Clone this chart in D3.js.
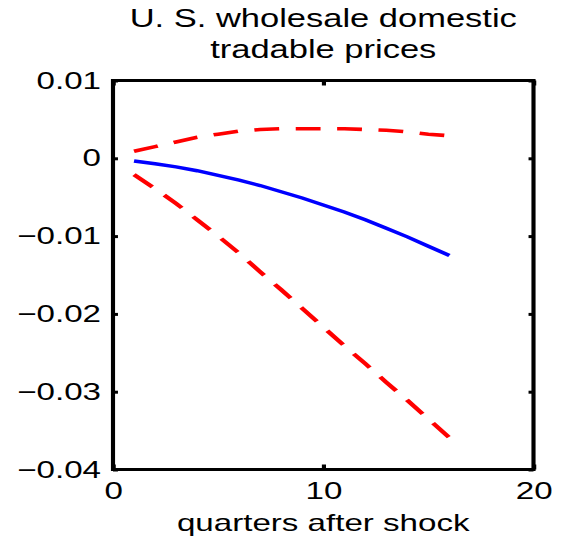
<!DOCTYPE html>
<html>
<head>
<meta charset="utf-8">
<script src="https://cdn.jsdelivr.net/npm/d3@7"></script>
<style>
  body { margin: 0; background: #fff; }
  text { font-family: 'Liberation Sans', Arial, sans-serif; fill: #000; }
</style>
</head>
<body>
<div id="chart"></div>
<script>
/* data */
const quarters = [1, 2, 3, 4, 5, 6, 7, 8, 9, 10, 11, 12, 13, 14, 15, 16]
const median = [-0.00035, -0.0007, -0.0011, -0.0016, -0.0022, -0.0028, -0.0035, -0.0043,
  -0.0051, -0.006, -0.0069, -0.0079, -0.009, -0.0101, -0.0113, -0.0125]
const upperBand = [0.0009, 0.0015, 0.0021, 0.0027, 0.0031, 0.0035, 0.0037, 0.0038,
  0.0038, 0.0038, 0.0038, 0.0037, 0.0036, 0.0034, 0.0031, 0.0029]
const lowerBand = [-0.0021, -0.0039, -0.0058, -0.0079, -0.01, -0.0122, -0.0146, -0.0169,
  -0.0193, -0.0217, -0.0241, -0.0264, -0.0288, -0.0311, -0.0335, -0.0359]
const xTicks = [0, 10, 20]
const yTicks = [0.01, 0, -0.01, -0.02, -0.03, -0.04]
const titleLines = ['U. S. wholesale domestic', 'tradable prices']
const xLabel = 'quarters after shock'

/* the picture is stretched sideways, so draw in narrow units and scale x */
const sx = 1.38
const totalW = 566
const totalH = 536
const margin = { top: 80.5, left: 113 / sx, right: (566 - 533.5) / sx, bottom: 536 - 469.5 }
const width = totalW / sx - margin.left - margin.right
const height = totalH - margin.top - margin.bottom

const xScale = d3.scaleLinear().domain([0, 20]).range([0, width])
const yScale = d3.scaleLinear().domain([-0.04, 0.01]).range([height, 0])

/* fn: y tick labels, plain 0 in the middle */
function formatY(d) {
  return Math.abs(d) < 1e-9 ? '0' : d3.format('.2f')(d)
}

const svg = d3.select('#chart')
  .append('svg')
  .attr('width', totalW)
  .attr('height', totalH)

const root = svg.append('g').attr('transform', `scale(${sx}, 1)`)
const g = root.append('g').attr('transform', `translate(${margin.left}, ${margin.top})`)

/* line generator */
const line = d3.line()
  .x((d, i) => xScale(quarters[i]))
  .y((d) => yScale(d))

/* bands and median */
g.append('path')
  .attr('d', line(upperBand))
  .attr('fill', 'none')
  .attr('stroke', '#ff0000')
  .attr('stroke-width', 3.6)
  .attr('stroke-dasharray', '18, 12')

g.append('path')
  .attr('d', line(lowerBand))
  .attr('fill', 'none')
  .attr('stroke', '#ff0000')
  .attr('stroke-width', 3.6)
  .attr('stroke-dasharray', '18, 12')

g.append('path')
  .attr('d', line(median))
  .attr('fill', 'none')
  .attr('stroke', '#0000ff')
  .attr('stroke-width', 3.4)

/* fn: axis look */
function styleAxis(sel) {
  sel.select('.domain').remove()
  sel.selectAll('.tick line').attr('stroke', '#000').attr('stroke-width', 3)
  sel.selectAll('.tick text')
    .style('font-family', "'Liberation Sans', Arial, sans-serif")
    .style('font-size', '24px')
    .attr('fill', '#000')
}

/* inside ticks on all four sides, labels left and bottom */
g.append('g')
  .call(d3.axisLeft(yScale).tickValues(yTicks).tickSize(-3.6).tickPadding(8.7).tickFormat(formatY))
  .call(styleAxis)

g.append('g')
  .attr('transform', `translate(${width}, 0)`)
  .call(d3.axisRight(yScale).tickValues(yTicks).tickSize(-3.6).tickFormat(''))
  .call(styleAxis)

g.append('g')
  .attr('transform', `translate(0, ${height})`)
  .call(d3.axisBottom(xScale).tickValues(xTicks).tickSize(-5).tickPadding(12).tickFormat(d3.format('d')))
  .call(styleAxis)

g.append('g')
  .call(d3.axisTop(xScale).tickValues(xTicks).tickSize(-5).tickFormat(''))
  .call(styleAxis)

/* plot box */
g.append('rect')
  .attr('width', width)
  .attr('height', height)
  .attr('fill', 'none')
  .attr('stroke', '#000')
  .attr('stroke-width', 3)

/* title */
root.selectAll('text.title')
  .data(titleLines)
  .enter()
  .append('text')
  .attr('class', 'title')
  .attr('x', margin.left + width / 2)
  .attr('y', (d, i) => 27 + i * 31)
  .attr('text-anchor', 'middle')
  .style('font-size', '25px')
  .text((d) => d)

/* x-axis label */
root.append('text')
  .attr('x', margin.left + width / 2)
  .attr('y', 531)
  .attr('text-anchor', 'middle')
  .style('font-size', '24px')
  .text(xLabel)
</script>
</body>
</html>
